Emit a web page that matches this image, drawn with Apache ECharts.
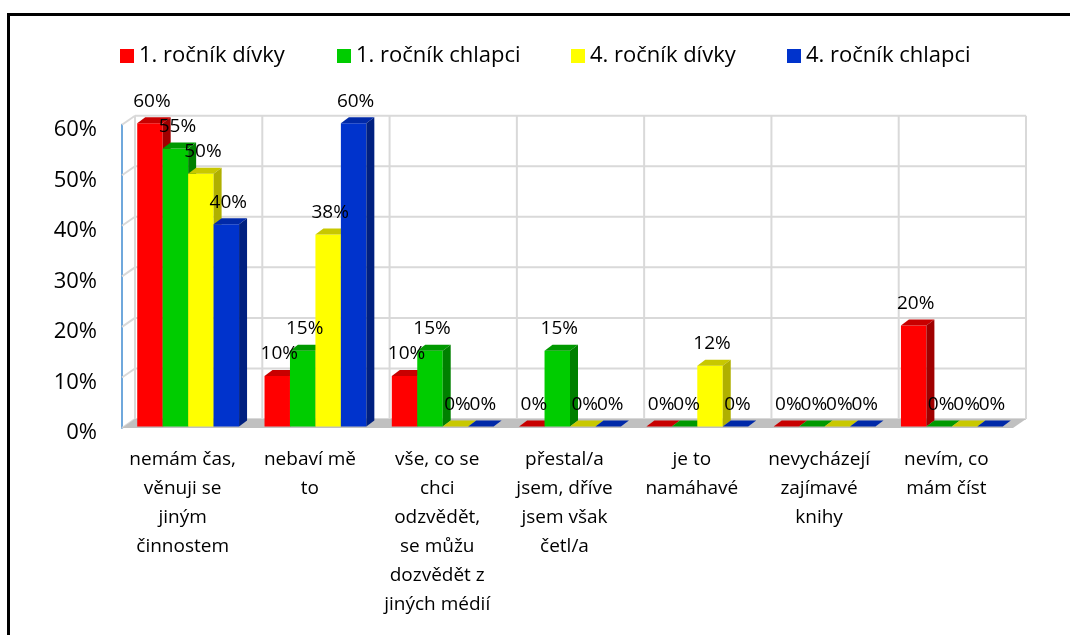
<!DOCTYPE html>
<html>
<head>
<meta charset="utf-8">
<script src="https://cdn.jsdelivr.net/npm/echarts@6/dist/echarts.min.js"></script>
<style>
  html, body { margin: 0; padding: 0; background: #fff; }
  #main { width: 1070px; height: 635px; }
</style>
</head>
<body>
<div id="main"></div>
<script>
// data
const categories = [
  'nemám čas,\nvěnuji se\njiným\nčinnostem',
  'nebaví mě\nto',
  'vše, co se\nchci\nodzvědět,\nse můžu\ndozvědět z\njiných médií',
  'přestal/a\njsem, dříve\njsem však\nčetl/a',
  'je to\nnamáhavé',
  'nevycházejí\nzajímavé\nknihy',
  'nevím, co\nmám číst'
]
const seriesNames = ['1. ročník dívky', '1. ročník chlapci', '4. ročník dívky', '4. ročník chlapci']
const girls1 = [0.60, 0.10, 0.10, 0, 0, 0, 0.20]
const boys1 = [0.55, 0.15, 0.15, 0.15, 0, 0, 0]
const girls4 = [0.50, 0.38, 0, 0, 0.12, 0, 0]
const boys4 = [0.40, 0.60, 0, 0, 0, 0, 0]
const yTicks = [0, 0.1, 0.2, 0.3, 0.4, 0.5, 0.6]

const FONT = '"Open Sans", sans-serif'
// 3D depth of the walls and of the bars
const WDX = 13, WDY = -9
const BDX = 8, BDY = -6
const BOX = 2.5, BOY = -1.5 // bars sit in the middle of the floor depth
const GRID_LINE = '#d9d9d9'

const faces = [
  { front: '#ff0000', top: '#c80000', side: '#a00000' },
  { front: '#00cc00', top: '#009900', side: '#008000' },
  { front: '#ffff00', top: '#c8c800', side: '#b0b000' },
  { front: '#0033cc', top: '#0029a8', side: '#002080' },
]
const legendLeft = [120, 337, 571, 787]

const myChart = echarts.init(document.getElementById('main'))

function pct(v) {
  return Math.round(v * 100) + '%'
}

// one 3D bar (front, top, side) + its label
function renderBar(s) {
  return function (params, api) {
    const c = api.value(0)
    const v = api.value(1)
    const top = api.coord([c, v])
    const base = api.coord([c, 0])
    const bw = api.size([1, 0])[0] * 0.2
    const x0 = top[0] + (s - 2) * bw + BOX
    const yt = top[1] + BOY
    const yb = base[1] + BOY
    const f = faces[s]
    return {
      type: 'group',
      children: [
        { type: 'rect', shape: { x: x0, y: yt, width: bw, height: yb - yt }, style: { fill: f.front } },
        {
          type: 'polygon',
          shape: { points: [[x0, yt], [x0 + bw, yt], [x0 + bw + BDX, yt + BDY], [x0 + BDX, yt + BDY]] },
          style: { fill: f.top },
        },
        {
          type: 'polygon',
          shape: { points: [[x0 + bw, yt], [x0 + bw + BDX, yt + BDY], [x0 + bw + BDX, yb + BDY], [x0 + bw, yb]] },
          style: { fill: f.side },
        },
        {
          type: 'text',
          z2: 100,
          style: {
            text: pct(v),
            x: x0 + bw / 2 + 2,
            y: yt - 22,
            align: 'center',
            verticalAlign: 'middle',
            font: '19px ' + FONT,
            fill: '#000',
          },
        },
      ],
    }
  }
}

const valueLists = [girls1, boys1, girls4, boys4]
const barSeries = valueLists.map((vals, s) => ({
  name: seriesNames[s],
  type: 'custom',
  z: 3,
  itemStyle: { color: faces[s].front },
  data: vals.map((v, i) => [i, v]),
  renderItem: renderBar(s),
}))

// back wall horizontal lines + slanted side lines
const wallSeries = {
  type: 'custom',
  z: 1,
  silent: true,
  data: yTicks.map(v => [0, v]),
  renderItem: function (params, api) {
    const v = api.value(1)
    const band = api.size([1, 0])[0]
    const l = api.coord([0, v])
    const r = api.coord([categories.length - 1, v])
    const x1 = l[0] - band / 2
    const x2 = r[0] + band / 2
    const y = l[1]
    return {
      type: 'group',
      children: [
        { type: 'line', shape: { x1: x1, y1: y, x2: x1 + WDX, y2: y + WDY }, style: { stroke: GRID_LINE, lineWidth: 2 } },
        { type: 'line', shape: { x1: x1 + WDX, y1: y + WDY, x2: x2 + WDX, y2: y + WDY }, style: { stroke: GRID_LINE, lineWidth: 2 } },
      ],
    }
  },
}

// back wall vertical category separators
const wallVertSeries = {
  type: 'custom',
  z: 1,
  silent: true,
  data: categories.map((c, i) => [i, 0]),
  renderItem: function (params, api) {
    const i = api.value(0)
    const band = api.size([1, 0])[0]
    const b = api.coord([i, 0])
    const t = api.coord([i, yTicks[yTicks.length - 1]])
    const xs = [b[0] - band / 2]
    if (i === categories.length - 1) xs.push(b[0] + band / 2)
    return {
      type: 'group',
      children: xs.map(x => ({
        type: 'line',
        shape: { x1: x + WDX, y1: b[1] + WDY, x2: x + WDX, y2: t[1] + WDY },
        style: { stroke: GRID_LINE, lineWidth: 2 },
      })),
    }
  },
}

// floor
const floorSeries = {
  type: 'custom',
  z: 2,
  silent: true,
  data: [[0, 0]],
  renderItem: function (params, api) {
    const band = api.size([1, 0])[0]
    const l = api.coord([0, 0])
    const r = api.coord([categories.length - 1, 0])
    const x1 = l[0] - band / 2
    const x2 = r[0] + band / 2
    const y = l[1]
    return {
      type: 'polygon',
      shape: { points: [[x1, y], [x2, y], [x2 + WDX, y + WDY], [x1 + WDX, y + WDY]] },
      style: { fill: '#c0c0c0' },
    }
  },
}

const option = {
  animation: false,
  backgroundColor: '#fff',
  graphic: [
    {
      type: 'rect',
      silent: true,
      shape: { x: 8.5, y: 14.5, width: 1100, height: 700 },
      style: { fill: 'none', stroke: '#000', lineWidth: 3 },
    },
  ],
  legend: seriesNames.map((n, i) => ({
    data: [n],
    left: legendLeft[i],
    top: 45,
    padding: 0,
    icon: 'rect',
    itemWidth: 14,
    itemHeight: 14,
    selectedMode: false,
    textStyle: { fontSize: 22, fontFamily: FONT, color: '#000' },
  })),
  grid: {
    left: 122,
    right: 57,
    top: 124.7,
    bottom: 207,
  },
  xAxis: {
    type: 'category',
    data: categories,
    axisLine: { show: false },
    axisTick: { show: false },
    splitLine: { show: false },
    axisLabel: {
      interval: 0,
      margin: 17,
      fontSize: 19,
      lineHeight: 29,
      fontFamily: FONT,
      color: '#000',
      align: 'center',
      padding: [0, 6, 0, 0],
    },
  },
  yAxis: {
    type: 'value',
    min: 0,
    max: 0.6,
    interval: 0.1,
    axisLine: { show: true, lineStyle: { color: '#6fa8dc', width: 2 } },
    axisTick: { show: false },
    splitLine: { show: false },
    axisLabel: {
      margin: 25,
      color: '#000',
      formatter: function (v) {
        return '{t|' + pct(v) + '}'
      },
      rich: {
        t: { fontSize: 22, fontFamily: FONT, color: '#000', padding: [10, 0, 0, 0] },
      },
    },
  },
  series: [wallSeries, wallVertSeries, floorSeries].concat(barSeries),
}

option && myChart.setOption(option)
</script>
</body>
</html>
